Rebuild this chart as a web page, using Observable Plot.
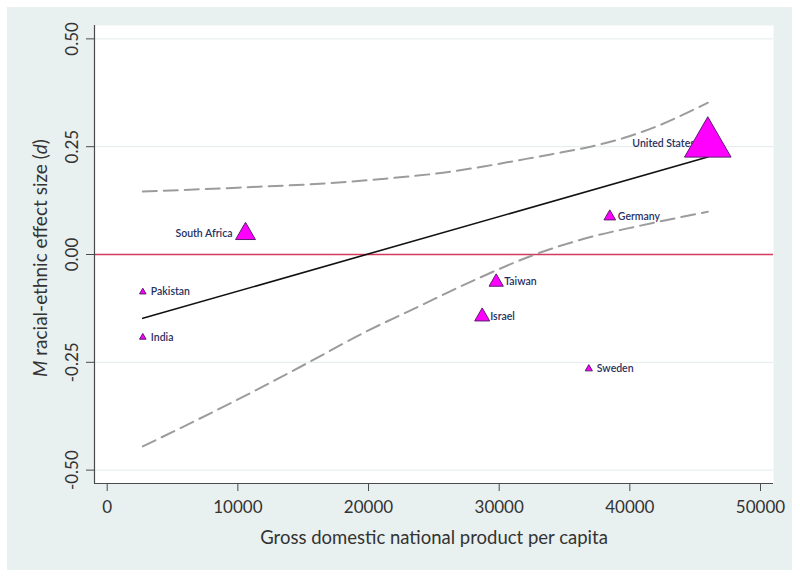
<!DOCTYPE html>
<html>
<head>
<meta charset="utf-8">
<script src="https://cdn.jsdelivr.net/npm/d3@7"></script>
<script src="https://cdn.jsdelivr.net/npm/@observablehq/plot@0.6"></script>
<style>
  html, body { margin: 0; padding: 0; background: #ffffff; }
  #wrap { position: relative; width: 800px; height: 581px; overflow: hidden; }
  #panel { position: absolute; left: 7px; top: 7px; width: 785px; height: 563px; background: #e9f0f0; }
  #chart { position: absolute; left: 0; top: 0; }
</style>
</head>
<body>
<div id="wrap"><div id="panel"></div><div id="chart"></div></div>
<script>
// Countries: GDP per capita, mean racial-ethnic effect size (d), marker weight
const countries = ["Pakistan", "India", "South Africa", "Israel", "Taiwan", "Sweden", "Germany", "United States"];
const gdp       = [2725, 2725, 10585, 28700, 29772, 36860, 38466, 45966];
const effect    = [-0.087, -0.192, 0.048, -0.144, -0.064, -0.265, 0.088, 0.257];
const weight    = [1, 1, 9.1, 5.2, 4.7, 1.2, 3.1, 50];
const labelSide = ["right", "right", "left", "right", "right", "right", "right", "left"];

// Linear fit
const fitX = [2725, 45966];
const fitY = [-0.148, 0.226];

// 95% confidence band (upper and lower)
const ciUpperX = [2725, 10000, 16700, 21000, 26270, 28800, 31380, 33930, 36990, 39520, 42120, 45966];
const ciUpperY = [0.146, 0.155, 0.165, 0.175, 0.192, 0.204, 0.218, 0.232, 0.250, 0.270, 0.298, 0.352];
const ciLowerX = [2725, 11045, 15307, 19540, 23810, 28060, 32735, 36560, 40815, 45966];
const ciLowerY = [-0.445, -0.320, -0.252, -0.183, -0.121, -0.060, 0.000, 0.037, 0.067, 0.099];

// Axis ticks
const xTicks = [0, 10000, 20000, 30000, 40000, 50000];
const yTicks = [-0.5, -0.25, 0, 0.25, 0.5];
const yGrid  = [-0.5, -0.25, 0.25, 0.5];

const xTitle = "Gross domestic national product per capita";

const points = countries.map((c, i) => ({country: c, gdp: gdp[i], d: effect[i], w: weight[i], side: labelSide[i]}));
const upper = ciUpperX.map((x, i) => ({x, y: ciUpperY[i]}));
const lower = ciLowerX.map((x, i) => ({x, y: ciLowerY[i]}));
const fit = fitX.map((x, i) => ({x, y: fitY[i]}));

const xDomain = [-972, 50995];
const yDomain = [-0.531, 0.531];

const axisColor = "#4a4a4a";
const labelColor = "#28305f";
const font = "Lato, 'Open Sans', sans-serif";

const plot = Plot.plot({
  width: 800,
  height: 581,
  marginLeft: 94,
  marginRight: 27,
  marginTop: 25,
  marginBottom: 98,
  style: { background: "transparent", fontFamily: font, color: "#333333", overflow: "visible" },
  x: { domain: xDomain },
  y: { domain: yDomain },
  r: { type: "sqrt", domain: [0, 50], range: [0, 17.3] },
  marks: [
    Plot.frame({ fill: "white", stroke: null }),
    Plot.ruleY(yGrid, { stroke: "#e3ebeb", strokeWidth: 1 }),
    Plot.ruleY([0], { stroke: "#d23b5c", strokeWidth: 1.6 }),
    Plot.ruleX([xDomain[0]], { stroke: axisColor, strokeWidth: 1.2 }),
    Plot.ruleY([yDomain[0]], { stroke: axisColor, strokeWidth: 1.2 }),
    Plot.axisX({ ticks: xTicks, tickSize: 8, tickPadding: 9, tickFormat: d => String(d), fontSize: 17, stroke: axisColor, label: null }),
    Plot.axisY({ ticks: yTicks, tickSize: 8, tickPadding: 9, tickRotate: -90, tickFormat: d => d.toFixed(2), fontSize: 17, stroke: axisColor, label: null }),
    Plot.text([xTitle], { frameAnchor: "bottom", dy: 60, fontSize: 18.5, fill: "#333333" }),
    Plot.line(upper, { x: "x", y: "y", curve: "monotone-x", stroke: "#9c9c9c", strokeWidth: 2, strokeDasharray: "14,7" }),
    Plot.line(lower, { x: "x", y: "y", curve: "monotone-x", stroke: "#9c9c9c", strokeWidth: 2, strokeDasharray: "14,7" }),
    Plot.line(fit, { x: "x", y: "y", stroke: "#111111", strokeWidth: 1.6 }),
    Plot.text(points.filter(p => p.side === "right"), { x: "gdp", y: "d", text: "country", textAnchor: "start", dx: 8, fontSize: 10.5, fontWeight: 600, fill: labelColor }),
    Plot.text(points.filter(p => p.side === "left"), { x: "gdp", y: "d", text: "country", textAnchor: "end", dx: -13, fontSize: 10.5, fontWeight: 600, fill: labelColor }),
    Plot.dot(points, { x: "gdp", y: "d", r: "w", symbol: "triangle", fill: "#ff00ff", stroke: "#5a1d6c", strokeWidth: 1 })
  ]
});

document.getElementById("chart").appendChild(plot);

// Y axis title with italic M and d
const svg = d3.select(plot);
const yt = svg.append("text")
  .attr("transform", "translate(40,258) rotate(-90)")
  .attr("text-anchor", "middle")
  .attr("dy", "0.35em")
  .attr("fill", "#333333")
  .attr("font-size", 19)
  .attr("font-family", font);
yt.append("tspan").attr("font-style", "italic").text("M");
yt.append("tspan").text(" racial-ethnic effect size (");
yt.append("tspan").attr("font-style", "italic").text("d");
yt.append("tspan").text(")");
</script>
</body>
</html>
